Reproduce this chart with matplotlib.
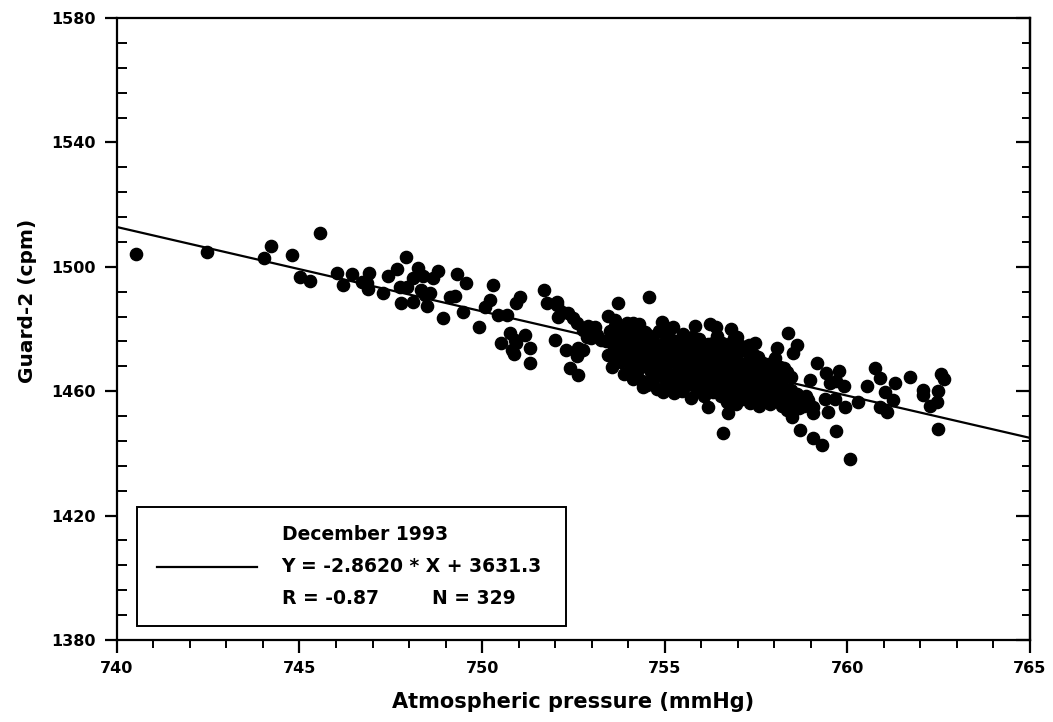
import matplotlib
matplotlib.use("Agg")
import matplotlib.pyplot as plt
from matplotlib.ticker import FixedLocator
from matplotlib.patches import Rectangle
from matplotlib.lines import Line2D

plt.rcParams['font.family'] = ['DejaVu Sans']
plt.rcParams['font.weight'] = 'bold'

# ---- data ----
pressure = [
    740.53, 742.48, 744.02, 744.23, 744.79, 745.57, 745.02, 745.28, 746.02, 746.18,
    746.43, 746.70, 746.91, 746.84, 746.88, 747.29, 747.43, 747.66, 747.91, 747.75,
    747.95, 747.77, 748.11, 748.25, 748.37, 748.80, 748.66, 748.34, 748.43, 748.57,
    748.11, 748.48, 749.30, 749.56, 749.12, 749.26, 748.93, 749.47, 750.30, 750.21,
    750.08, 749.92, 750.44, 750.67, 751.04, 750.94, 751.69, 751.77, 752.04, 752.08,
    751.99, 750.53, 750.76, 750.90, 750.81, 750.94, 751.17, 751.31, 750.87, 751.31,
    752.18, 752.36, 752.49, 752.59, 752.77, 752.86, 753.09, 753.14, 752.99, 753.27,
    753.73, 753.45, 753.64, 753.77, 753.55, 753.96, 752.31, 752.63, 752.59, 752.77,
    752.42, 752.63, 753.55, 753.73, 754.05, 754.23, 754.09, 754.14, 752.04,
    754.58, 754.30, 754.55, 754.94, 755.22, 755.10, 755.83, 755.74, 756.33, 756.51,
    754.41, 754.96, 755.28, 756.01,
    756.24, 756.83, 756.97, 757.47, 758.37, 758.62, 758.51, 758.07, 758.02, 757.55,
    759.17, 759.43, 759.77, 759.69, 759.91, 758.98, 760.76, 760.53, 760.29, 760.89,
    759.93, 759.47, 759.06, 758.50, 758.70, 759.06, 759.30, 759.70, 760.07,
    756.59, 756.18, 756.73, 757.42, 757.69, 758.15,
    760.89, 761.30, 761.03, 761.26, 761.09, 761.71, 762.08, 762.08, 762.26, 762.49,
    762.45, 762.58, 762.65, 762.49,
    756.56, 756.69, 756.92, 757.06, 757.33, 757.74, 757.88, 758.15, 758.34, 758.47,
    756.60, 756.79, 758.38, 758.47, 758.75, 758.93, 759.07,
    759.52, 759.39, 759.66,
    753.40, 753.45, 753.50, 753.55, 753.60, 753.65, 753.70, 753.75, 753.80, 753.85,
    753.90, 753.92, 753.98, 754.00, 754.05, 754.08, 754.12, 754.15, 754.20, 754.22,
    754.28, 754.30, 754.35, 754.38, 754.42, 754.46, 754.50, 754.52, 754.55, 754.58,
    754.62, 754.65, 754.68, 754.72, 754.75, 754.78, 754.82, 754.85, 754.88, 754.92,
    754.95, 754.98, 755.02, 755.05, 755.08, 755.12, 755.15, 755.18, 755.22, 755.25,
    755.28, 755.32, 755.35, 755.38, 755.42, 755.45, 755.48, 755.52, 755.55, 755.58,
    755.62, 755.65, 755.68, 755.72, 755.75, 755.78, 755.82, 755.85, 755.88, 755.92,
    755.95, 755.98, 756.02, 756.05, 756.08, 756.12, 756.15, 756.18, 756.22, 756.25,
    756.28, 756.32, 756.35, 756.38, 756.42, 756.45, 756.48, 756.50, 755.50, 755.00,
    756.55, 756.58, 756.62, 756.65, 756.70, 756.72, 756.75, 756.78, 756.82, 756.85,
    756.88, 756.92, 756.95, 756.98, 757.02, 757.05, 757.08, 757.12, 757.15, 757.18,
    757.22, 757.25, 757.28, 757.32, 757.35, 757.38, 757.42, 757.45, 757.48, 757.52,
    757.55, 757.58, 757.62, 757.65, 757.68, 757.72, 757.75, 757.78, 757.30, 756.90,
    757.82, 757.85, 757.88, 757.92, 757.95, 757.98, 758.02, 758.05, 758.08, 758.12,
    758.18, 758.22, 758.25, 758.30, 758.35, 758.40, 758.45, 758.52, 758.58, 758.62,
    758.68, 758.75, 758.82, 758.88, 758.28,
    752.90, 756.40,
]

counts = [
    1504.1, 1504.9, 1502.7, 1506.7, 1503.8, 1511.0, 1496.6, 1495.4, 1497.9, 1494.1,
    1497.7, 1495.2, 1498.1, 1494.7, 1492.8, 1491.7, 1497.0, 1499.2, 1503.1, 1493.4,
    1493.4, 1488.5, 1496.3, 1499.5, 1497.0, 1498.7, 1496.3, 1492.5, 1490.9, 1491.5,
    1488.8, 1487.4, 1497.7, 1494.7, 1490.4, 1490.6, 1483.4, 1485.6, 1494.1, 1489.3,
    1487.2, 1480.7, 1484.5, 1484.5, 1490.4, 1488.3, 1492.5, 1488.3, 1487.7, 1484.0,
    1476.5, 1475.4, 1478.6, 1476.5, 1473.2, 1475.4, 1478.1, 1473.8, 1472.0, 1469.0,
    1485.6, 1485.0, 1483.4, 1481.8, 1479.7, 1477.5, 1480.7, 1478.1, 1477.0, 1476.5,
    1488.5, 1484.2, 1482.9, 1480.2, 1478.6, 1478.6, 1473.2, 1473.8, 1471.3, 1473.2,
    1467.4, 1465.2, 1472.0, 1470.6, 1474.3, 1470.0, 1465.8, 1481.8, 1488.8,
    1490.2, 1481.6, 1478.1, 1482.3, 1480.5, 1478.6, 1481.0, 1477.5, 1475.4, 1473.2,
    1461.4, 1459.8, 1461.4, 1459.8,
    1481.6, 1480.0, 1477.5, 1475.5, 1478.8, 1474.9, 1472.3, 1474.0, 1470.7, 1471.0,
    1469.2, 1465.9, 1466.6, 1463.4, 1461.7, 1463.6, 1467.5, 1461.7, 1456.6, 1455.0,
    1455.0, 1453.4, 1453.0, 1451.8, 1447.5, 1445.0, 1442.7, 1447.3, 1438.2,
    1446.6, 1454.9, 1453.0, 1459.1, 1460.4, 1461.4,
    1464.1, 1462.7, 1459.8, 1457.2, 1453.4, 1464.5, 1460.4, 1458.8, 1455.2, 1460.2,
    1456.6, 1465.5, 1463.8, 1447.8,
    1475.4, 1471.6, 1472.2, 1469.0, 1465.8, 1467.9, 1466.3, 1467.9, 1466.3, 1464.7,
    1461.4, 1457.2, 1458.2, 1455.6, 1456.6, 1457.2, 1455.0,
    1462.7, 1457.4, 1457.4,
    1476.0, 1471.5, 1479.5, 1467.8, 1474.2, 1481.0, 1476.8, 1472.9, 1469.5, 1478.3,
    1465.6, 1474.8, 1482.0, 1471.2, 1477.6, 1468.3, 1463.8, 1475.5, 1479.6, 1472.4,
    1466.9, 1476.4, 1470.0, 1463.2, 1473.6, 1478.9, 1468.0, 1461.9, 1475.0, 1471.3,
    1466.2, 1477.2, 1463.5, 1470.6, 1474.1, 1460.6, 1467.7, 1479.3, 1472.2, 1464.8,
    1469.1, 1475.8, 1461.8, 1466.5, 1472.9, 1477.4, 1463.3, 1469.8, 1474.6, 1459.5,
    1466.0, 1471.5, 1476.1, 1462.7, 1468.4, 1473.3, 1460.2, 1465.1, 1470.7, 1475.7,
    1462.0, 1467.3, 1472.0, 1457.9, 1464.4, 1469.3, 1474.5, 1461.1, 1466.7, 1471.0,
    1476.9, 1463.6, 1468.6, 1473.8, 1458.4, 1465.5, 1470.2, 1475.1, 1461.6, 1467.1,
    1472.6, 1459.6, 1464.0, 1469.5, 1477.8, 1462.4, 1466.6, 1471.4, 1478.4, 1480.6,
    1458.5, 1464.8, 1468.9, 1474.0, 1456.6, 1461.8, 1466.2, 1470.4, 1475.6, 1459.3,
    1463.4, 1467.8, 1455.9, 1471.9, 1460.7, 1465.0, 1474.6, 1457.4, 1462.6, 1468.2,
    1472.8, 1459.8, 1464.3, 1469.7, 1456.2, 1461.2, 1466.9, 1471.6, 1458.7, 1463.9,
    1467.5, 1455.3, 1460.9, 1465.4, 1469.2, 1457.8, 1462.1, 1464.6, 1475.0, 1477.0,
    1459.4, 1468.6, 1455.9, 1463.0, 1466.0, 1458.1, 1461.6, 1464.9, 1456.9, 1459.9,
    1463.4, 1455.1, 1458.4, 1461.0, 1454.0, 1457.0, 1460.3, 1453.6, 1456.0, 1459.0,
    1454.6, 1457.8, 1455.3, 1458.5, 1467.4,
    1481.0, 1480.5,
]

# regression line as it appears on the (slightly rotated) scan
fit_x = [740, 765]
fit_y = [1512.8, 1445.0]

x_major = [740, 745, 750, 755, 760, 765]
x_minor = list(range(740, 766))
y_major = [1380, 1420, 1460, 1500, 1540, 1580]
y_minor = list(range(1380, 1581, 8))

legend_title = "December 1993"
legend_eq = "Y = -2.8620 * X + 3631.3"
legend_r = "R = -0.87"
legend_n = "N = 329"

x_label = "Atmospheric pressure (mmHg)"
y_label = "Guard-2 (cpm)"

# ---- figure ----
fig = plt.figure(figsize=(10.53, 7.22), dpi=100)
ax = fig.add_axes([0.111, 0.1136, 0.867, 0.8614])

ax.plot(pressure, counts, 'o', color='black', markersize=8.8, zorder=3)
ax.plot(fit_x, fit_y, color='black', linewidth=1.6, zorder=2)

ax.set_xlim(740, 765)
ax.set_ylim(1380, 1580)
ax.xaxis.set_major_locator(FixedLocator(x_major))
ax.xaxis.set_minor_locator(FixedLocator(x_minor))
ax.yaxis.set_major_locator(FixedLocator(y_major))
ax.yaxis.set_minor_locator(FixedLocator(y_minor))

for s in ax.spines.values():
    s.set_linewidth(1.6)

ax.tick_params(axis='x', which='major', direction='out', length=9, width=1.6,
               labelsize=11.5, pad=6)
ax.tick_params(axis='x', which='minor', direction='out', length=6, width=1.4)
ax.tick_params(axis='y', which='major', direction='out', length=9, width=1.6,
               labelsize=11.5, pad=6)
ax.tick_params(axis='y', which='minor', direction='in', length=7, width=1.4)

sec_y = ax.secondary_yaxis('right')
sec_y.yaxis.set_major_locator(FixedLocator(y_major))
sec_y.yaxis.set_minor_locator(FixedLocator(y_minor))
sec_y.tick_params(which='major', direction='in', length=10, width=1.6, labelright=False)
sec_y.tick_params(which='minor', direction='in', length=6, width=1.4)
sec_y.spines['right'].set_linewidth(1.6)

ax.set_xlabel(x_label, fontsize=15, fontweight='bold', labelpad=12)
ax.set_ylabel(y_label, fontsize=14.5, fontweight='bold')
ax.yaxis.set_label_coords(-0.087, 0.545)

# legend box
ax.add_patch(Rectangle((0.022, 0.0225), 0.470, 0.1913, transform=ax.transAxes,
                       fill=False, edgecolor='black', linewidth=1.4, zorder=4))
ax.add_line(Line2D([0.044, 0.154], [0.1174, 0.1174], transform=ax.transAxes,
                   color='black', linewidth=1.6, zorder=4))
fs = 13.5
ax.text(0.181, 0.1688, legend_title, transform=ax.transAxes, fontsize=fs,
        fontweight='bold', va='center', ha='left')
ax.text(0.180, 0.1185, legend_eq, transform=ax.transAxes, fontsize=fs,
        fontweight='bold', va='center', ha='left')
ax.text(0.181, 0.0675, legend_r, transform=ax.transAxes, fontsize=fs,
        fontweight='bold', va='center', ha='left')
ax.text(0.345, 0.0675, legend_n, transform=ax.transAxes, fontsize=fs,
        fontweight='bold', va='center', ha='left')

fig.savefig('out.png', dpi=100)
